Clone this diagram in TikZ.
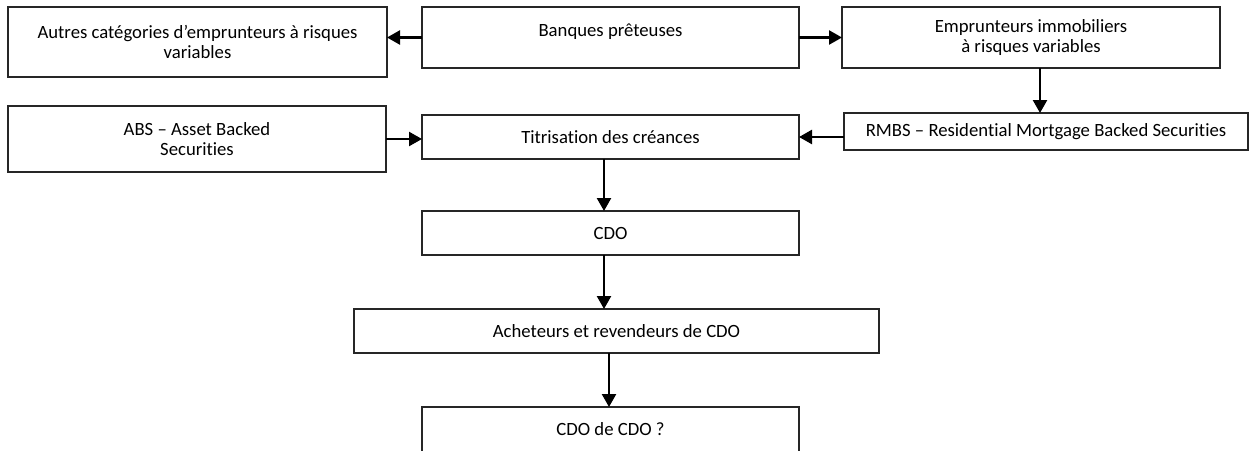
\documentclass[tikz,border=0pt]{standalone}
\usepackage{fontspec}
\setmainfont{Carlito}[Ligatures=NoCommon]
\usetikzlibrary{arrows.meta,calc}
\begin{document}
\begin{tikzpicture}[x=1pt,y=-1pt,
  box/.style={draw=black!85,line width=1.2pt,rectangle,inner sep=0pt,outer sep=0pt,
    align=center,font=\fontsize{18.7}{20}\selectfont},
  conn/.style={line width=2.4pt,-{Triangle[length=13pt,width=14pt]}}]
\useasboundingbox (0,0) rectangle (1250,450);
\clip (0,0) rectangle (1250,450);
\node[box,minimum width=379pt,minimum height=70pt] (autres) at (197.5,42)
  {Autres catégories d’emprunteurs à risques\\variables};
\node[box,minimum width=377pt,minimum height=61pt] (banques) at (610.5,37.5)
  {Banques prêteuses\\[-5pt]\mbox{}};
\node[box,minimum width=378pt,minimum height=61pt] (empr) at (1031,37.5)
  {Emprunteurs immobiliers\\à risques variables};
\node[box,minimum width=404pt,minimum height=37pt] (rmbs) at (1046,131.5)
  {RMBS – Residential Mortgage Backed Securities};
\node[box,minimum width=378pt,minimum height=66pt] (abs) at (197,139)
  {ABS – Asset Backed\\Securities};
\node[box,minimum width=377pt,minimum height=44pt] (titr) at (610.5,137)
  {Titrisation des créances};
\node[box,minimum width=377pt,minimum height=44pt] (cdo) at (610.5,233)
  {CDO};
\node[box,minimum width=525pt,minimum height=44pt] (ach) at (616.5,331)
  {Acheteurs et revendeurs de CDO};
\node[box,minimum width=377pt,minimum height=45pt] (cdocdo) at (610.5,429.5)
  {CDO de CDO ?};
% connectors
\draw[conn] (banques.west) -- (banques.west -| autres.east);
\draw[conn] (banques.east) -- (banques.east -| empr.west);
\coordinate (ev) at ([xshift=9pt]empr.south);
\draw[conn] (ev) -- (ev |- rmbs.north);
\draw[conn] (abs.east) -- (abs.east -| titr.west);
\draw[conn] (rmbs.west |- titr.east) -- (titr.east);
\coordinate (t1) at ([xshift=-6.5pt]titr.south);
\draw[conn] (t1) -- (t1 |- cdo.north);
\coordinate (t2) at ([xshift=-6.5pt]cdo.south);
\draw[conn] (t2) -- (t2 |- ach.north);
\coordinate (t3) at ([xshift=-7.5pt]ach.south);
\draw[conn] (t3) -- (t3 |- cdocdo.north);
\end{tikzpicture}
\end{document}
